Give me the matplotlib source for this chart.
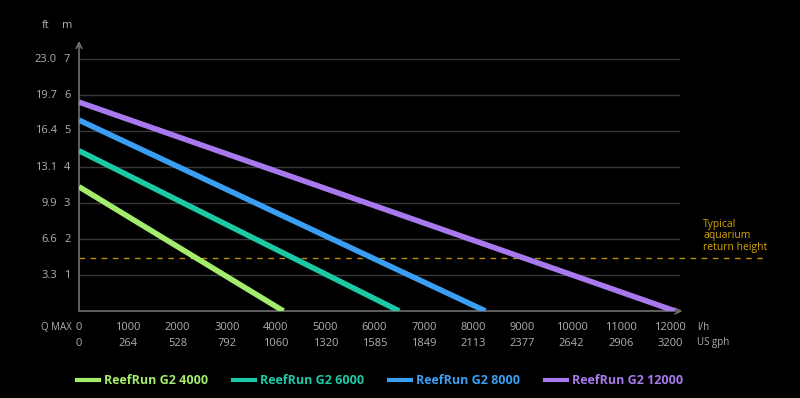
import numpy as np
import matplotlib
matplotlib.use("Agg")
import matplotlib.pyplot as plt
from matplotlib.lines import Line2D

plt.rcParams['font.family'] = ['Open Sans', 'DejaVu Sans']

# pump curves: head at zero flow (m) and max flow at zero head (l/h)
models = ["ReefRun G2 4000", "ReefRun G2 6000", "ReefRun G2 8000", "ReefRun G2 12000"]
head_max_m = [3.45, 4.45, 5.30, 5.80]
flow_max_lh = [4150, 6500, 8250, 12100]
colors = ["#a3ec6c", "#1cc9a6", "#3a9ff2", "#a878ee"]

m_ticks = [1, 2, 3, 4, 5, 6, 7]
ft_labels = ["3.3", "6.6", "9.9", "13.1", "16.4", "19.7", "23.0"]
lh_ticks = [0, 1000, 2000, 3000, 4000, 5000, 6000, 7000, 8000, 9000, 10000, 11000, 12000]
gph_labels = ["0", "264", "528", "792", "1060", "1320", "1585", "1849", "2113",
              "2377", "2642", "2906", "3200"]
typical_height = 1.48

BG = "black"
GRID = "#3a3a3a"
AXC = "#707070"
TXT = "#b0b0b0"
GOLD = "#d4a600"

fig = plt.figure(figsize=(8, 3.98), dpi=100, facecolor=BG)
W, H = 800, 398
ax = fig.add_axes([79 / W, (H - 311) / H, 601 / W, 269 / H])
ax.set_facecolor(BG)
ax.set_xlim(0, 12200)
ax.set_ylim(0, 7.47)
for s in ax.spines.values():
    s.set_visible(False)
ax.set_xticks([])
ax.set_yticks([])

# grid
for m in m_ticks:
    ax.plot([0, 12200], [m, m], color=GRID, lw=1, zorder=1)

# axes with arrows
ax.annotate("", xy=(12250, 0), xytext=(0, 0),
            arrowprops=dict(arrowstyle="->", color=AXC, lw=1.2, shrinkA=0, shrinkB=0),
            annotation_clip=False)
ax.annotate("", xy=(0, 7.5), xytext=(0, 0),
            arrowprops=dict(arrowstyle="->", color=AXC, lw=1.2, shrinkA=0, shrinkB=0),
            annotation_clip=False)

# typical return height
ax.plot([0, 13900], [typical_height, typical_height], color="#b88f08", lw=1,
        ls=(0, (4, 4)), zorder=2, clip_on=False)
fig.text(703 / W, 1 - 219 / H, "Typical\naquarium\nreturn height", color=GOLD,
         fontsize=7.5, va="top", ha="left", linespacing=1.05)

# pump curves
for name, h, q, c in zip(models, head_max_m, flow_max_lh, colors):
    ax.plot([0, q], [h, 0], color=c, lw=4, solid_capstyle="butt", label=name, zorder=3)

# y tick labels
for m, ft in zip(m_ticks, ft_labels):
    y = 1 - (311 - 36 * m) / H
    fig.text(57 / W, y, ft, color=TXT, fontsize=8, ha="right", va="center")
    fig.text(64 / W, y, str(m), color=TXT, fontsize=8, ha="left", va="center")
fig.text(46 / W, 1 - 25 / H, "ft", color=TXT, fontsize=8, ha="center", va="center")
fig.text(67 / W, 1 - 25 / H, "m", color=TXT, fontsize=8, ha="center", va="center")

# x tick labels
for q, g in zip(lh_ticks, gph_labels):
    ax.text(q, -0.45, str(q), color=TXT, fontsize=8, ha="center", va="center", clip_on=False)
    ax.text(q, -0.9, g, color=TXT, fontsize=8, ha="center", va="center", clip_on=False)
fig.text(72 / W, 1 - 327 / H, "Q MAX", color=TXT, fontsize=7, ha="right", va="center")
fig.text(697 / W, 1 - 327 / H, "l/h", color=TXT, fontsize=7, ha="left", va="center")
fig.text(697 / W, 1 - 343 / H, "US gph", color=TXT, fontsize=7, ha="left", va="center")

# legend
handles = [Line2D([], [], color=c, lw=3) for c in colors]
leg = fig.legend(handles, models, ncol=4, loc="center", bbox_to_anchor=(380 / W, 1 - 381 / H),
                 frameon=False, handlelength=1.75, handletextpad=0.4, columnspacing=2.0,
                 labelcolor=colors, prop=dict(weight="bold", size=9))

fig.savefig("out.png", dpi=100, facecolor=BG)
